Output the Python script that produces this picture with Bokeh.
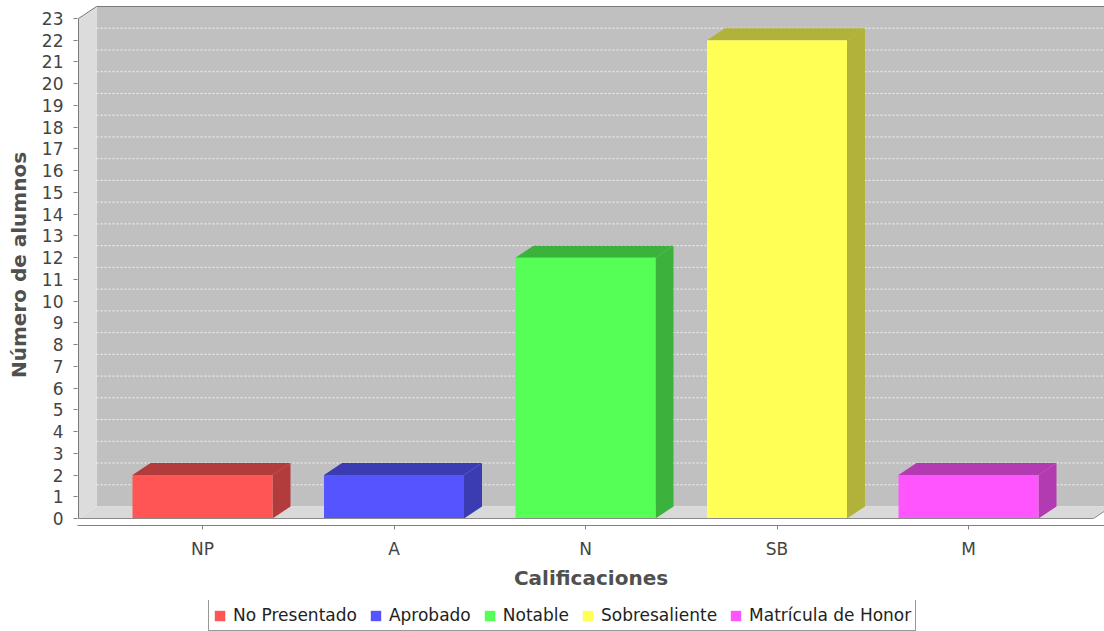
from bokeh.plotting import figure
from bokeh.layouts import column
from bokeh.models import Range1d, FixedTicker, Legend, LegendItem
from bokeh.embed import file_html
from bokeh.resources import INLINE

# ---- data ----
categories = ["NP", "A", "N", "SB", "M"]
series_names = ["No Presentado", "Aprobado", "Notable", "Sobresaliente", "Matrícula de Honor"]
values = [2, 2, 12, 22, 2]
colors = ["#ff5555", "#5555ff", "#55ff55", "#ffff55", "#ff55ff"]
dark_colors = ["#b23b3b", "#3b3bb2", "#3bb23b", "#b2b23b", "#b23bb2"]
y_ticks = list(range(0, 24))
y_max = 23

# ---- layout / 3D geometry (style) ----
W, H, LH = 1104, 600, 31
frame_left = 77
frame_top = 4
frame_bottom = 525
px_cat = 191.5
x_start = -125.0 / px_cat
x_end = x_start + (W - frame_left) / px_cat
px_y = 500.0 / 23.0
dx = 18.0 / px_cat
dy = 12.0 / px_y
y_start = -7.0 / px_y
y_end = y_start + (frame_bottom - frame_top) / px_y
x0 = x_start + 1.0 / px_cat
xr = x_end - 11.0 / px_cat
bw = 140.0 / px_cat

p = figure(width=W, height=H, output_backend="svg", toolbar_location=None,
           x_range=Range1d(x_start, x_end), y_range=Range1d(y_start, y_end),
           min_border_left=frame_left, min_border_right=0, min_border_top=frame_top,
           min_border_bottom=H - frame_bottom)
p.background_fill_color = "white"
p.border_fill_color = "white"
p.outline_line_color = None
p.xgrid.visible = False
p.ygrid.visible = False

# back wall
p.quad(left=[x0 + dx], right=[x_end + 1], bottom=[dy], top=[y_max + dy],
       fill_color="#c0c0c0", line_color=None)
# left wall
p.patch([x0, x0, x0 + dx, x0 + dx], [0, y_max, y_max + dy, dy],
        fill_color="#dcdcdc", line_color=None)
# floor
p.patch([x0, x0 + dx, xr + dx, xr], [0, dy, dy, 0],
        fill_color="#d9d9d9", line_color=None)
# gridlines on back wall
gv = [v for v in y_ticks if 0 < v < y_max]
p.segment(x0=[x0 + dx] * len(gv), x1=[x_end] * len(gv),
          y0=[v + dy for v in gv], y1=[v + dy for v in gv],
          line_color="#f4f4f4", line_dash="2 2", line_width=1)

# bars
for i, v in enumerate(values):
    l, r = i - bw / 2, i + bw / 2
    p.patch([r, r + dx, r + dx, r], [0, dy, v + dy, v],
            fill_color=dark_colors[i], line_color=None)
    p.patch([l, l + dx, r + dx, r], [v, v + dy, v + dy, v],
            fill_color=dark_colors[i], line_color=None)
    p.quad(left=[l], right=[r], bottom=[0], top=[v],
           fill_color=colors[i], line_color=None)

# box outline
p.line([x0, x0, x0 + dx, x_end + 1], [0, y_max, y_max + dy, y_max + dy],
       line_color="#7a7a7a", line_width=1)
p.line([x0, xr, xr + dx], [0, 0, dy], line_color="#8a8a8a", line_width=1)

# axes
font = "DejaVu Sans"
ya = p.yaxis[0]
ya.ticker = FixedTicker(ticks=y_ticks)
ya.axis_line_color = None
ya.major_tick_out = 4
ya.major_tick_in = 0
ya.minor_tick_line_color = None
ya.major_tick_line_color = "#808080"
ya.major_label_text_font = font
ya.major_label_text_font_size = "17px"
ya.major_label_text_color = "#444444"
ya.major_label_standoff = 10
ya.axis_label = "Número de alumnos"
ya.axis_label_text_font = font
ya.axis_label_text_font_size = "20px"
ya.axis_label_text_font_style = "bold"
ya.axis_label_text_color = "#505050"
ya.axis_label_standoff = 8

xa = p.xaxis[0]
xa.ticker = FixedTicker(ticks=list(range(len(categories))))
xa.major_label_overrides = {i: c for i, c in enumerate(categories)}
xa.axis_line_color = "#808080"
xa.major_tick_out = 4
xa.major_tick_in = 0
xa.minor_tick_line_color = None
xa.major_tick_line_color = "#808080"
xa.major_label_text_font = font
xa.major_label_text_font_size = "17px"
xa.major_label_text_color = "#444444"
xa.major_label_standoff = 9
xa.axis_label = "Calificaciones"
xa.axis_label_text_font = font
xa.axis_label_text_font_size = "20px"
xa.axis_label_text_font_style = "bold"
xa.axis_label_text_color = "#505050"
xa.axis_label_standoff = 4

# legend strip (separate small figure so the legend is not clipped);
# the series bars are drawn there too, but outside its visible y range
lg = figure(width=W, height=LH, output_backend="svg", toolbar_location=None,
            x_range=Range1d(x_start, x_end), y_range=Range1d(-2, -1),
            min_border_left=0, min_border_right=0, min_border_top=0, min_border_bottom=0)
lg.axis.visible = False
lg.grid.visible = False
lg.outline_line_color = None
lg.background_fill_color = "white"
lg.border_fill_color = "white"
swatches = [lg.quad(left=[i - bw / 2], right=[i + bw / 2], bottom=[0], top=[v],
                    fill_color=colors[i], line_color=None)
            for i, v in enumerate(values)]
legend = Legend(items=[LegendItem(label=series_names[i], renderers=[swatches[i]])
                       for i in range(len(series_names))],
                orientation="horizontal", location=(208 - frame_left, 0))
legend.label_text_font = font
legend.label_text_font_size = "17px"
legend.label_text_color = "#222222"
legend.glyph_width = 13
legend.glyph_height = 13
legend.label_height = 22
legend.label_standoff = 7
legend.spacing = 12
legend.padding = 4
legend.margin = 0
legend.border_line_color = "#333333"
legend.border_line_width = 1
legend.background_fill_color = "white"
lg.add_layout(legend, "center")

layout = column(p, lg, spacing=0)
open("out.html", "w").write(file_html(layout, INLINE))
